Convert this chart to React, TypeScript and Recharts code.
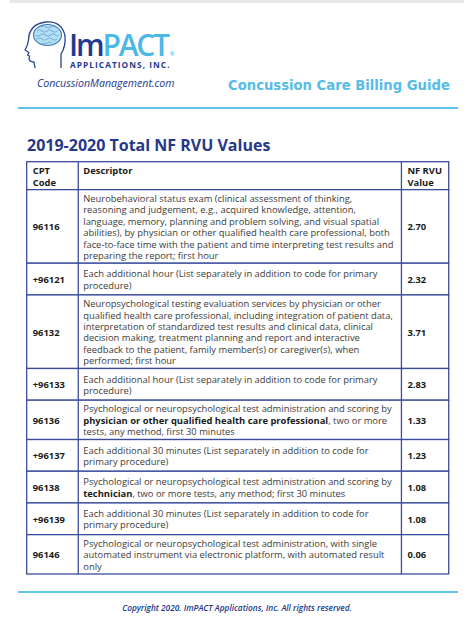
import React from "react";
import { BarChart, Bar, XAxis, YAxis } from "recharts";

// ---- data ----
const headerCells = [["CPT", "Code"], ["Descriptor"], ["NF RVU", "Value"]];
const codes = ["96116", "+96121", "96132", "+96133", "96136", "+96137", "96138", "+96139", "96146"];
const rvuValues = ["2.70", "2.32", "3.71", "2.83", "1.33", "1.23", "1.08", "1.08", "0.06"];
const descriptors: string[][] = [
  [
    "Neurobehavioral status exam (clinical assessment of thinking,",
    "reasoning and judgement, e.g., acquired knowledge, attention,",
    "language, memory, planning and problem solving, and visual spatial",
    "abilities), by physician or other qualified health care professional, both",
    "face-to-face time with the patient and time interpreting test results and",
    "preparing the report; first hour",
  ],
  ["Each additional hour (List separately in addition to code for primary", "procedure)"],
  [
    "Neuropsychological testing evaluation services by physician or other",
    "qualified health care professional, including integration of patient data,",
    "interpretation of standardized test results and clinical data, clinical",
    "decision making, treatment planning and report and interactive",
    "feedback to the patient, family member(s) or caregiver(s), when",
    "performed; first hour",
  ],
  ["Each additional hour (List separately in addition to code for primary", "procedure)"],
  [
    "Psychological or neuropsychological test administration and scoring by",
    "**physician or other qualified health care professional**, two or more",
    "tests, any method, first 30 minutes",
  ],
  ["Each additional 30 minutes (List separately in addition to code for", "primary procedure)"],
  [
    "Psychological or neuropsychological test administration and scoring by",
    "**technician**, two or more tests, any method; first 30 minutes",
  ],
  ["Each additional 30 minutes (List separately in addition to code for", "primary procedure)"],
  [
    "Psychological or neuropsychological test administration, with single",
    "automated instrument via electronic platform, with automated result",
    "only",
  ],
];

// row heights in "text line" units
const headerUnits = headerCells[0].length + 0.45;
const rowUnits = descriptors.map((d) => Math.max(d.length + 0.45, 2.78));
const allUnits = [headerUnits, ...rowUnits];
const totalUnits = allUnits.reduce((a, b) => a + b, 0);

const tableRow: Record<string, number | string> = { name: "table" };
allUnits.forEach((u, i) => (tableRow["r" + i] = u));
const tableData = [tableRow];

const NAVY = "#3a4d9c";
const TEXT = "#3c3c3c";
const DARK = "#1a1a1a";
const LINE = 11.4;
const FONT = "'Open Sans', sans-serif";
const COL1 = 0.1222;
const COL2 = 0.888;

function MultiLine(props: { lines: string[]; x: number; y: number; fs: number; weight?: number; fill?: string }) {
  const { lines, x, y, fs, weight = 400, fill = TEXT } = props;
  return (
    <text x={x} y={y} fontSize={fs} fontFamily={FONT} fill={fill} fontWeight={weight} dominantBaseline="central">
      {lines.map((s, k) => {
        const parts = s.split("**");
        return (
          <tspan key={k} x={x} dy={k === 0 ? 0 : LINE}>
            {parts.map((p, j) =>
              j % 2 === 1 ? (
                <tspan key={j} fontWeight={700} fill={DARK}>{p}</tspan>
              ) : (
                <tspan key={j}>{p}</tspan>
              )
            )}
          </tspan>
        );
      })}
    </text>
  );
}

function makeShape(rowIndex: number) {
  return (props: any) => {
    const x = props.x;
    const width = props.width;
    const y = Math.min(props.y, props.y + props.height);
    const height = Math.abs(props.height);
    const cx1 = x + width * COL1;
    const cx2 = x + width * COL2;
    const midY = y + height / 2;
    const isHeader = rowIndex === 0;
    const lines = isHeader ? [] : descriptors[rowIndex - 1];
    const startY = midY - ((lines.length - 1) * LINE) / 2;
    return (
      <g>
        <rect x={x} y={y} width={width} height={height} fill="#fff" stroke={NAVY} strokeWidth={1.3} />
        <line x1={cx1} y1={y} x2={cx1} y2={y + height} stroke={NAVY} strokeWidth={1.3} />
        <line x1={cx2} y1={y} x2={cx2} y2={y + height} stroke={NAVY} strokeWidth={1.3} />
        {isHeader ? (
          <g>
            <MultiLine lines={headerCells[0]} x={x + 6} y={y + 8.5} fs={9.4} weight={700} fill={DARK} />
            <MultiLine lines={headerCells[1]} x={cx1 + 5} y={y + 8.5} fs={9.4} weight={700} fill={DARK} />
            <MultiLine lines={headerCells[2]} x={cx2 + 6} y={y + 8.5} fs={9.4} weight={700} fill={DARK} />
          </g>
        ) : (
          <g>
            <MultiLine lines={[codes[rowIndex - 1]]} x={x + 6} y={midY} fs={9.4} weight={700} fill={DARK} />
            <MultiLine lines={lines} x={cx1 + 5} y={startY} fs={9.4} />
            <MultiLine lines={[rvuValues[rowIndex - 1]]} x={cx2 + 6} y={midY} fs={9.4} weight={700} fill={DARK} />
          </g>
        )}
      </g>
    );
  };
}

function Logo() {
  return (
    <svg width={50} height={52} style={{ position: "absolute", left: 20, top: 18 }} viewBox="20 18 50 52">
      <path
        d="M35 68 L34 62 Q30 62 29 59 L29.5 56 L27.5 55 L29 52.5 L25 50 Q28 45 28.5 40 Q29 24 46 22 Q62 21 65 36 Q66 46 61 54 L61 68"
        fill="none"
        stroke="#2a4290"
        strokeWidth={1.3}
        strokeLinejoin="round"
      />
      <ellipse cx={47.5} cy={35} rx={14} ry={10.5} fill="#b6def3" stroke="#3b78b8" strokeWidth={1.1} />
      <path
        d="M37 31 q2.5 -2.5 5 0 t5 0 t5 0 t5 0 M35.5 35 q2.5 2.5 5 0 t5 0 t5 0 t5 0 t3.5 0 M37 39 q2.5 -2.5 5 0 t5 0 t5 0 t5 0 M41 27 q2.5 -2 5 0 t5 0 t4 0 M42 43 q2.5 2 5 0 t5 0"
        fill="none"
        stroke="#5a9fd0"
        strokeWidth={0.8}
      />
    </svg>
  );
}

export default function App() {
  return (
    <div style={{ position: "absolute", left: 0, top: 0, width: 474, height: 624, background: "#fff", overflow: "hidden" }}>
      <div style={{ position: "absolute", left: 10, top: 0, width: 454, height: 3, background: "#e8e8e8" }} />
      <Logo />
      <div style={{ position: "absolute", left: 69, top: 29, fontFamily: "'Open Sans', sans-serif", fontSize: 30, fontWeight: 600, letterSpacing: -2.2, lineHeight: "32px", whiteSpace: "nowrap" }}>
        <span style={{ color: "#1f3b8f" }}>Im</span>
        <span style={{ color: "#4cb8e6" }}>PACT</span>
        <span style={{ color: "#4cb8e6", fontSize: 6, letterSpacing: 0, marginLeft: 2 }}>®</span>
      </div>
      <div style={{ position: "absolute", left: 70, top: 61, fontFamily: "'Open Sans', sans-serif", fontSize: 8.3, fontWeight: 700, letterSpacing: 1.05, color: "#1f3b8f", whiteSpace: "nowrap", lineHeight: "8px" }}>
        APPLICATIONS, INC.
      </div>
      <div style={{ position: "absolute", left: 37, top: 76, fontFamily: "'Open Sans', sans-serif", fontStyle: "italic", fontSize: 10.6, color: "#23388a", whiteSpace: "nowrap", lineHeight: "14px" }}>
        ConcussionManagement.com
      </div>
      <div style={{ position: "absolute", left: 228, top: 77, fontFamily: "'DejaVu Sans', sans-serif", fontSize: 13.2, fontWeight: 600, color: "#55bce8", whiteSpace: "nowrap", lineHeight: "18px" }}>
        Concussion Care Billing Guide
      </div>
      <div style={{ position: "absolute", left: 18, top: 107, width: 440, height: 2, background: "#5cc3ea" }} />
      <div style={{ position: "absolute", left: 27, top: 134, fontFamily: "'Open Sans', sans-serif", fontSize: 16, fontWeight: 700, color: "#26388a", whiteSpace: "nowrap", lineHeight: "22px" }}>
        2019-2020 Total NF RVU Values
      </div>
      <div style={{ position: "absolute", left: 0, top: 0 }}>
        <BarChart
          width={474}
          height={624}
          data={tableData}
          margin={{ top: 161.7, bottom: 50, left: 26.7, right: 25 }}
          barCategoryGap={0}
          barGap={0}
        >
          <XAxis dataKey="name" hide />
          <YAxis type="number" domain={[0, totalUnits]} reversed hide />
          {allUnits.map((_, i) => (
            <Bar key={i} dataKey={"r" + i} stackId="t" isAnimationActive={false} shape={makeShape(i)} />
          ))}
        </BarChart>
      </div>
      <div style={{ position: "absolute", left: 18, top: 591, width: 440, height: 2, background: "#5cc3ea" }} />
      <div style={{ position: "absolute", left: 0, width: 474, top: 602, textAlign: "center", fontFamily: "'Open Sans', sans-serif", fontStyle: "italic", fontWeight: 600, fontSize: 8.3, color: "#23388a", lineHeight: "12px" }}>
        Copyright 2020. ImPACT Applications, Inc. All rights reserved.
      </div>
    </div>
  );
}
